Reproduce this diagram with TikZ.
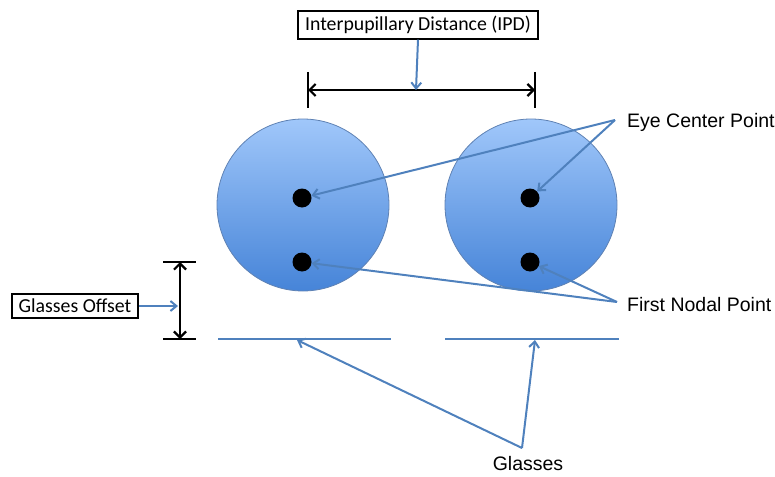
\documentclass[tikz,border=0pt]{standalone}
\usepackage{fontspec}
\setmainfont{Liberation Sans}
\newfontfamily\calibri{Carlito}
\usetikzlibrary{arrows.meta}
\definecolor{arrowblue}{RGB}{79,129,189}
\definecolor{eyetop}{RGB}{160,199,250}
\definecolor{eyebot}{RGB}{70,132,216}
\definecolor{eyeedge}{RGB}{95,130,180}
\tikzset{
  lbl/.style={font=\fontsize{19.5}{22}\selectfont, inner sep=0pt},
  boxlbl/.style={draw=black, line width=1.7pt, fill=white, font=\calibri\fontsize{19.8}{22}\selectfont, inner xsep=7pt, inner ysep=5pt},
  pointer/.style={draw=arrowblue, line width=2pt, -{Straight Barb[length=6pt,width=10pt,line width=2pt]}},
  dim/.style={draw=black, line width=2.2pt, {Straight Barb[length=6pt,width=12pt]}-{Straight Barb[length=6pt,width=12pt]}},
  bar/.style={draw=black, line width=2.2pt},
  glass/.style={draw=arrowblue, line width=2.4pt},
  pupil/.style={circle, fill=black, minimum size=19pt, inner sep=0pt},
}
\begin{document}
\begin{tikzpicture}[x=1pt,y=-1pt]
\useasboundingbox (0,0) rectangle (775,476);
% eyes
\shade[top color=eyetop, bottom color=eyebot] (303,205) circle (86);
\draw[eyeedge, line width=0.8pt] (303,205) circle (86);
\shade[top color=eyetop, bottom color=eyebot] (531,205) circle (86);
\draw[eyeedge, line width=0.8pt] (531,205) circle (86);
\node[pupil] (cL) at (302,198) {};
\node[pupil] (nL) at (302,262) {};
\node[pupil] (cR) at (530,198) {};
\node[pupil] (nR) at (530,262) {};
% glasses
\coordinate (g1a) at (218,339);
\coordinate (g1b) at (391,339);
\coordinate (g2a) at (445,339);
\coordinate (g2b) at (619,339);
\draw[glass] (g1a) -- (g1b);
\draw[glass] (g2a) -- (g2b);
\coordinate (gL) at (297,340);
\coordinate (gR) at (535,340);
% IPD dimension
\coordinate (ipdA) at (308,90);
\coordinate (ipdB) at (535,90);
\coordinate (ipdM) at (416,90);
\draw[bar] (308,72) -- (308,108);
\draw[bar] (535,72) -- (535,108);
\draw[dim] (ipdA) -- (ipdB);
\node[boxlbl] (ipd) at (418,25) {Interpupillary Distance (IPD)};
\draw[pointer] (ipd.south) -- (ipdM);
% glasses offset dimension
\coordinate (goA) at (180,262);
\coordinate (goB) at (180,339);
\coordinate (goM) at (178,306);
\draw[bar] (163,262) -- (196,262);
\draw[bar] (163,339) -- (196,339);
\draw[dim] (goA) -- (goB);
\node[boxlbl] (go) at (75,306) {Glasses Offset};
\draw[pointer] (go.east) -- (goM);
% labels
\node[lbl, anchor=west] (ecp) at (627,122) {Eye Center Point};
\node[lbl, anchor=west] (fnp) at (627,305) {First Nodal Point};
\node[lbl] (gl) at (528,464) {Glasses};
\coordinate (ecpS) at (615,120);
\coordinate (fnpS) at (617,302);
\coordinate (glS) at (522,448);
\draw[pointer] (ecpS) -- (cL);
\draw[pointer] (ecpS) -- (cR);
\draw[pointer] (fnpS) -- (nL);
\draw[pointer] (fnpS) -- (nR);
\draw[pointer] (glS) -- (gL);
\draw[pointer] (glS) -- (gR);
\end{tikzpicture}
\end{document}
